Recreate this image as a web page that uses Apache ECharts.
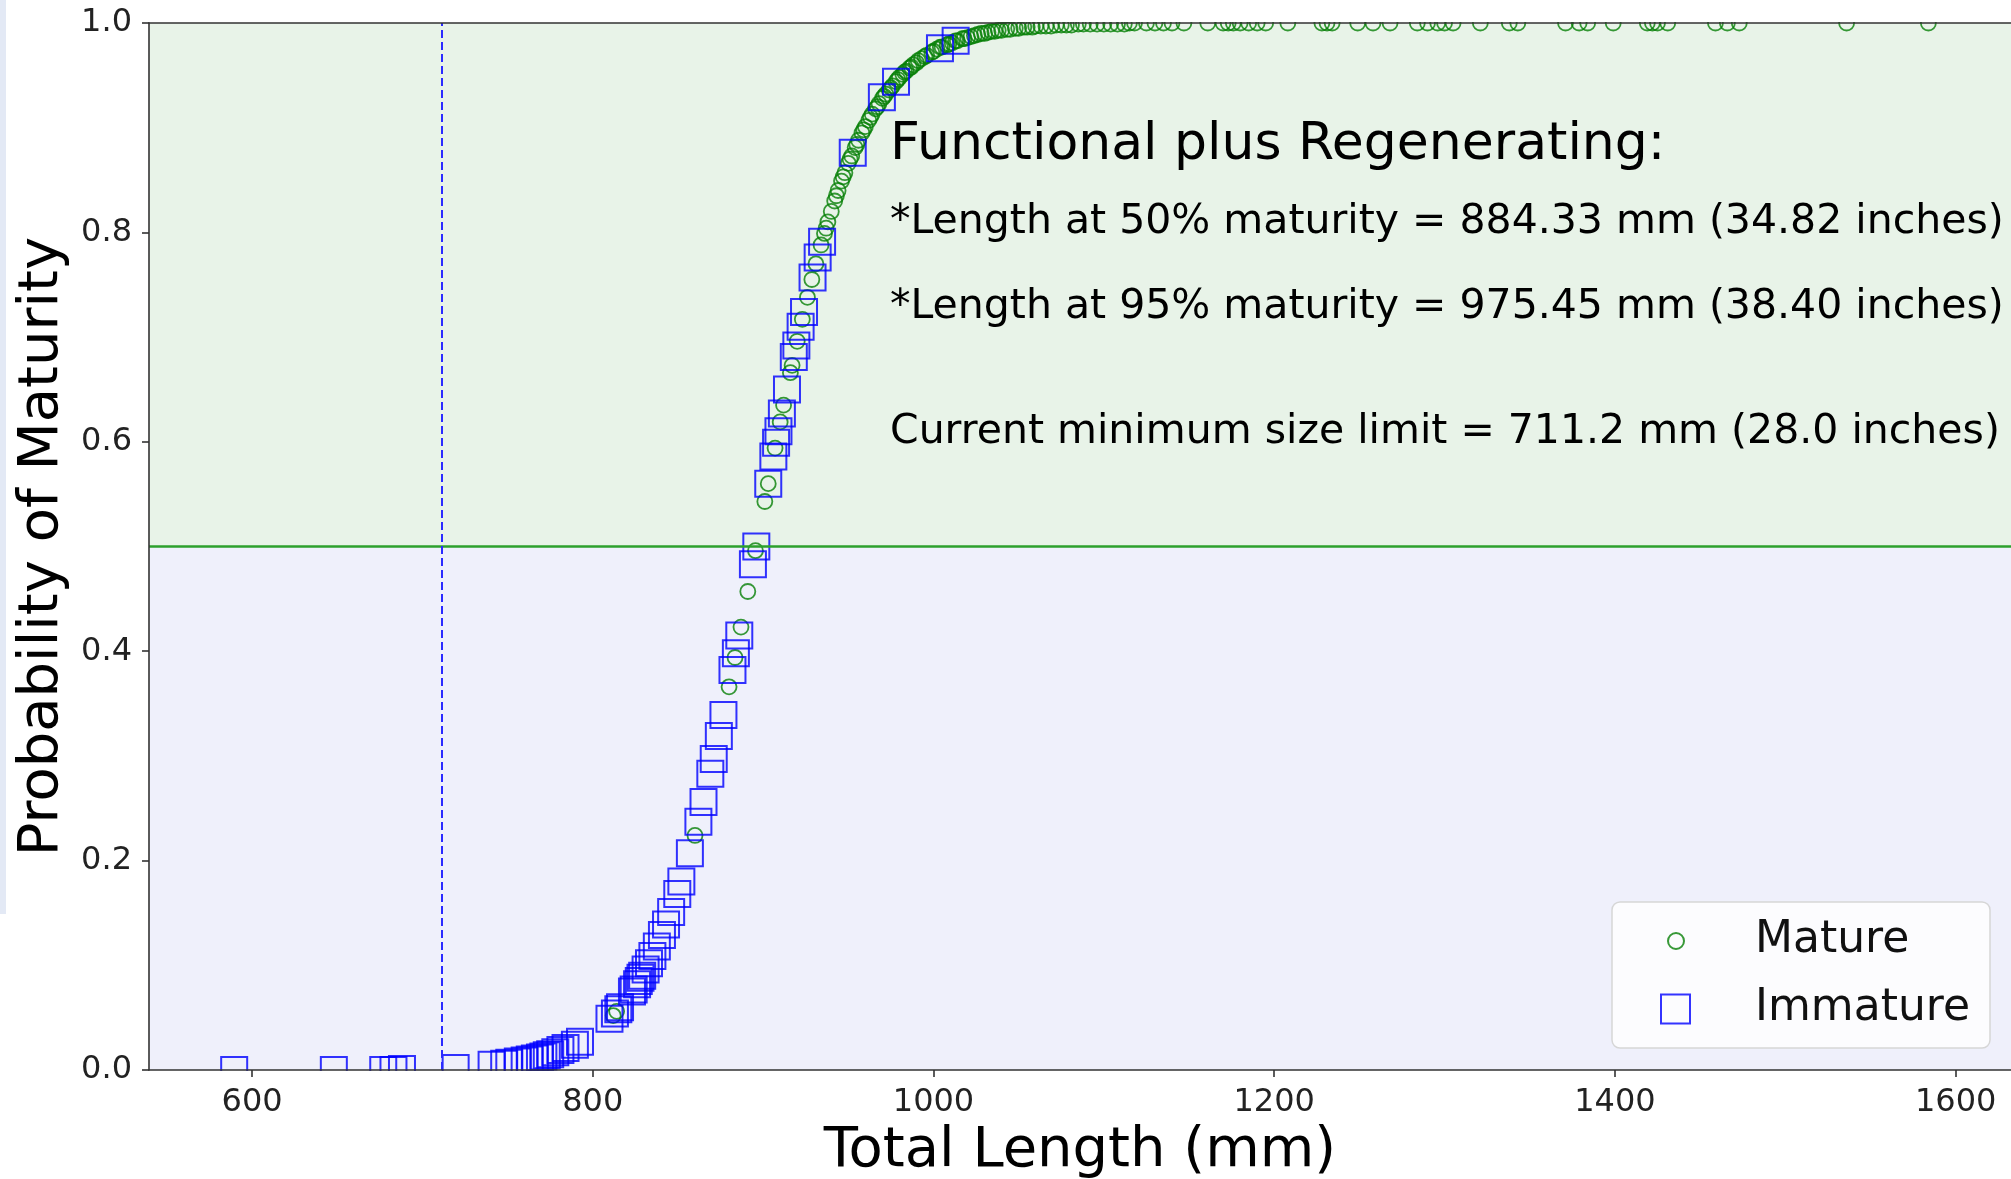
<!DOCTYPE html>
<html>
<head>
<meta charset="utf-8">
<script src="https://cdn.jsdelivr.net/npm/echarts@6/dist/echarts.min.js"></script>
<style>
  html, body { margin: 0; padding: 0; background: #fff; }
  #chart { width: 2011px; height: 1179px; }
</style>
</head>
<body>
<div id="chart"></div>
<script>
// total length (mm) and predicted probability of maturity
const matureLength = [
  812, 814, 860, 880, 883.5, 887, 891, 895.5, 901, 903, 907, 910, 912, 916, 917, 920, 923, 926, 928.6, 931, 934, 936,
  937, 938, 940, 942, 943, 944, 946, 947, 948, 950, 951, 952, 954, 955, 956, 958, 959, 960, 962, 963, 964, 966, 967,
  968, 970, 971, 972, 974, 975, 976, 978, 979, 980, 982, 983, 984, 986, 987, 988, 990, 991, 993, 995, 996, 999, 1000,
  1002, 1004, 1005, 1008, 1009, 1011, 1013, 1014, 1017, 1018, 1020, 1022, 1024, 1026, 1028, 1030, 1032, 1034, 1036,
  1038, 1040, 1043, 1045, 1048, 1050, 1053, 1055, 1058, 1060, 1063, 1066, 1069, 1072, 1075, 1078, 1081, 1085, 1088,
  1092, 1096, 1100, 1104, 1108, 1112, 1115, 1118,
  1125, 1130, 1135, 1140, 1147, 1161, 1170, 1173, 1176, 1180, 1185, 1190, 1195, 1208, 1228, 1231, 1234, 1249, 1258,
  1268, 1284, 1290, 1296, 1300, 1305, 1321, 1338, 1343, 1371, 1379, 1384, 1399, 1419, 1422, 1425, 1431, 1459, 1466,
  1473, 1536, 1584
]
const matureProb = [
  0.052, 0.056, 0.224, 0.366, 0.394, 0.423, 0.457, 0.496, 0.543, 0.56, 0.594, 0.619, 0.635, 0.666, 0.673, 0.696, 0.717,
  0.738, 0.755, 0.77, 0.788, 0.799,
  0.804, 0.81, 0.82, 0.83, 0.835, 0.84, 0.849, 0.853, 0.857, 0.866, 0.87, 0.873, 0.881, 0.884, 0.888, 0.895, 0.898,
  0.901, 0.907, 0.91, 0.913, 0.918, 0.92, 0.923, 0.928, 0.93, 0.932, 0.936, 0.938, 0.94, 0.944, 0.946, 0.948, 0.951,
  0.953, 0.954, 0.957, 0.958, 0.96, 0.962, 0.964, 0.966, 0.968, 0.969, 0.972, 0.973, 0.975, 0.977, 0.977, 0.979, 0.98,
  0.981, 0.983, 0.983, 0.985, 0.985, 0.986, 0.987, 0.988, 0.989, 0.99, 0.99, 0.991, 0.992, 0.992, 0.993, 0.993, 0.994,
  0.994, 0.995, 0.995, 0.996, 0.996, 0.996, 0.997, 0.997, 0.997, 0.997, 0.998, 0.998, 0.998, 0.998, 0.999, 0.999,
  0.999, 0.999, 0.999, 0.999, 0.999, 0.999, 1, 1,
  1, 1, 1, 1, 1, 1, 1, 1, 1, 1, 1, 1, 1, 1, 1, 1, 1, 1, 1,
  1, 1, 1, 1, 1, 1, 1, 1, 1, 1, 1, 1, 1, 1, 1, 1, 1, 1, 1,
  1, 1, 1
]
const immatureLength = [
  589.5, 648, 677, 683, 688, 719.5, 740.6, 748, 751, 756, 760, 763, 766, 769, 771, 773, 775, 778, 781, 784, 789.5, 792.5,
  809.8, 813, 815, 816, 823, 824, 826, 827, 828, 829, 831, 833, 835, 837.6, 840.6, 843, 846, 849.6, 852, 857, 862, 865,
  869, 871, 874, 876.7, 882, 884, 886, 894, 896, 903, 906, 907.6, 909, 911, 914, 918, 919.5, 922, 924, 929, 932, 934.6,
  952.6, 969.7, 978, 1003.8, 1013
]
const immatureProb = [
  0, 0, 0, 0, 0.001, 0.002, 0.005, 0.006, 0.007, 0.008, 0.009, 0.01, 0.011, 0.012, 0.013, 0.014, 0.015, 0.017, 0.019,
  0.021, 0.024, 0.027,
  0.049, 0.054, 0.058, 0.06, 0.075, 0.077, 0.082, 0.085, 0.088, 0.09, 0.096, 0.102, 0.109, 0.118, 0.129, 0.139, 0.151,
  0.168, 0.18, 0.207, 0.237, 0.256, 0.283, 0.297, 0.319, 0.339, 0.382, 0.398, 0.415, 0.483, 0.5, 0.56, 0.586, 0.599,
  0.61, 0.627, 0.65, 0.681, 0.692, 0.71, 0.724, 0.757, 0.776, 0.791, 0.876, 0.929, 0.944, 0.976, 0.983
]
const xTicks = [600, 800, 1000, 1200, 1400, 1600]
const sizeLimit = 711.2
const cutoff = 0.5
const notes = [
  'Functional plus Regenerating:',
  '*Length at 50% maturity = 884.33 mm (34.82 inches)',
  '*Length at 95% maturity = 975.45 mm (38.40 inches)',
  'Current minimum size limit = 711.2 mm (28.0 inches)'
]

const font = 'DejaVu Sans'
const axisColor = '#333'
const matureData = matureLength.map((x, i) => [x, matureProb[i]])
const immatureData = immatureLength.map((x, i) => [x, immatureProb[i]])

const chart = echarts.init(document.getElementById('chart'))

chart.setOption({
  animation: false,
  textStyle: { fontFamily: font },
  grid: { left: 149, right: 0, top: 23, bottom: 109, outerBoundsMode: 'none', containLabel: false },
  xAxis: [
    {
      type: 'value',
      min: 539.5,
      max: 1632.5,
      z: 10,
      name: 'Total Length (mm)',
      nameLocation: 'middle',
      nameGap: 52,
      nameTextStyle: { fontSize: 56, color: '#000', fontFamily: font },
      axisLine: { onZero: false, lineStyle: { color: axisColor, width: 1.6 } },
      axisTick: { customValues: xTicks, length: 7, lineStyle: { color: axisColor, width: 1.6 } },
      axisLabel: {
        customValues: xTicks,
        formatter: v => String(v),
        fontSize: 32,
        color: '#222',
        margin: 17,
        fontFamily: font
      },
      splitLine: { show: false }
    },
    {
      type: 'value',
      position: 'top',
      min: 539.5,
      max: 1632.5,
      z: 10,
      axisLine: { show: true, onZero: false, lineStyle: { color: axisColor, width: 1.6 } },
      axisTick: { show: false },
      axisLabel: { show: false },
      splitLine: { show: false }
    }
  ],
  yAxis: {
    type: 'value',
    min: 0,
    max: 1,
    interval: 0.2,
    z: 10,
    name: 'Probability of Maturity',
    nameLocation: 'middle',
    nameGap: 77,
    nameTextStyle: { fontSize: 56, color: '#000', fontFamily: font },
    axisLine: { show: true, onZero: false, lineStyle: { color: axisColor, width: 1.6 } },
    axisTick: { show: true, length: 7, lineStyle: { color: axisColor, width: 1.6 } },
    axisLabel: { formatter: v => v.toFixed(1), fontSize: 32, color: '#222', margin: 17, fontFamily: font },
    splitLine: { show: false }
  },
  legend: [
    {
      data: [{ name: 'Mature', icon: 'circle' }],
      left: 1667,
      top: 916,
      padding: 0,
      z: 20,
      selectedMode: false,
      itemWidth: 16,
      itemHeight: 16,
      textStyle: { fontSize: 44, color: '#111', fontFamily: font, padding: [0, 0, 0, 66], lineHeight: 50 }
    },
    {
      data: [{ name: 'Immature', icon: 'rect' }],
      left: 1660,
      top: 984,
      padding: 0,
      z: 20,
      selectedMode: false,
      itemWidth: 29,
      itemHeight: 29,
      textStyle: { fontSize: 44, color: '#111', fontFamily: font, padding: [0, 0, 0, 60], lineHeight: 50 }
    }
  ],
  graphic: [
    // white margins cut the markers that sit on the frame, as the plot clip does
    { type: 'rect', z: 5, silent: true, shape: { x: 0, y: 0, width: 2011, height: 22 }, style: { fill: '#fff' } },
    { type: 'rect', z: 5, silent: true, shape: { x: 0, y: 1071, width: 2011, height: 108 }, style: { fill: '#fff' } },
    { type: 'rect', z: 30, silent: true, shape: { x: 0, y: 0, width: 6, height: 914 }, style: { fill: '#e3e9f5' } },
    {
      type: 'rect', z: 15, silent: true,
      shape: { x: 1612, y: 902, width: 378, height: 146, r: 8 },
      style: { fill: 'rgba(255,255,255,0.8)', stroke: '#d6d6d6', lineWidth: 1.5 }
    },
    { type: 'text', z: 20, x: 890, y: 145, style: { text: notes[0], fontSize: 52, fontFamily: font, fill: '#000', verticalAlign: 'middle' } },
    { type: 'text', z: 20, x: 890, y: 222, style: { text: notes[1], fontSize: 41, fontFamily: font, fill: '#000', verticalAlign: 'middle' } },
    { type: 'text', z: 20, x: 890, y: 307, style: { text: notes[2], fontSize: 41, fontFamily: font, fill: '#000', verticalAlign: 'middle' } },
    { type: 'text', z: 20, x: 890, y: 432, style: { text: notes[3], fontSize: 41, fontFamily: font, fill: '#000', verticalAlign: 'middle' } }
  ],
  series: [
    {
      type: 'scatter',
      data: [],
      z: 0,
      silent: true,
      markArea: {
        silent: true,
        data: [
          [{ yAxis: cutoff, itemStyle: { color: '#e8f3e8' } }, { yAxis: 1 }],
          [{ yAxis: 0, itemStyle: { color: '#eff0fb' } }, { yAxis: cutoff }]
        ]
      }
    },
    {
      type: 'scatter',
      data: [],
      z: 1,
      silent: true,
      markLine: {
        silent: true,
        symbol: ['none', 'none'],
        label: { show: false },
        data: [
          { yAxis: cutoff, lineStyle: { color: '#2ca02c', width: 2.5, type: 'solid' } },
          { xAxis: sizeLimit, lineStyle: { color: '#2b2bff', width: 2, type: [8, 4] } }
        ]
      }
    },
    {
      name: 'Mature',
      type: 'scatter',
      data: matureData,
      symbol: 'circle',
      symbolSize: 15,
      z: 2,
      itemStyle: { color: 'rgba(0,0,0,0)', borderColor: '#068006', borderWidth: 1.8 },
      emphasis: { disabled: true }
    },
    {
      name: 'Immature',
      type: 'scatter',
      data: immatureData,
      symbol: 'rect',
      symbolSize: 26,
      z: 3,
      itemStyle: { color: 'rgba(0,0,0,0)', borderColor: '#0000ff', borderWidth: 2 },
      emphasis: { disabled: true }
    }
  ]
})
</script>
</body>
</html>
